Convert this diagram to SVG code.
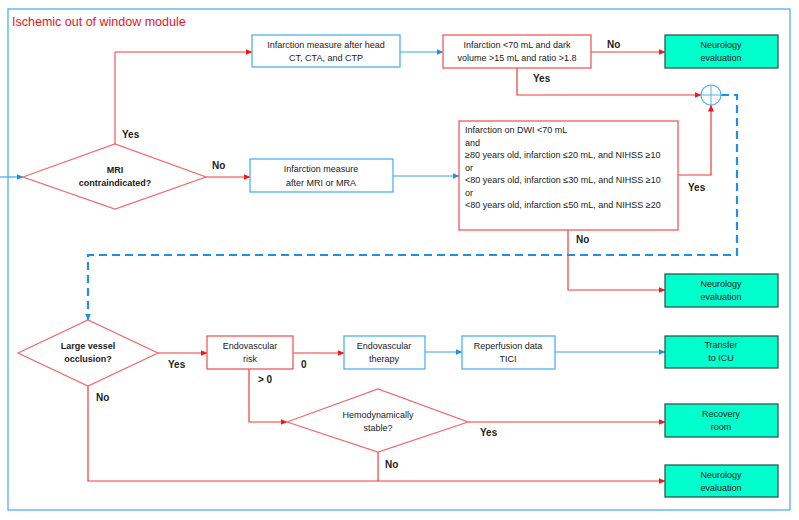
<svg xmlns="http://www.w3.org/2000/svg" width="799" height="520" viewBox="0 0 799 520">
<style>
  text { font-family: "Liberation Sans", Arial, sans-serif; font-size: 9px; fill: #1a1a1a; }
  .c { text-anchor: middle; }
  .lbl { font-size: 10px; font-weight: bold; fill: #222; }
  .title { font-size: 12.5px; fill: #e8141b; }
  .bbox { fill: #ffffff; stroke: #4db3ee; stroke-width: 1.3; }
  .rbox { fill: #ffffff; stroke: #f15b5b; stroke-width: 1.3; }
  .term { fill: #00ffcc; stroke: #2e5a50; stroke-width: 1.3; }
  .dia { fill: #ffffff; stroke: #f26a6a; stroke-width: 1.2; }
  .rl { fill: none; stroke: #f23a3a; stroke-width: 1.2; }
  .pl { fill: none; stroke: #f79a9a; stroke-width: 2; }
  .bl { fill: none; stroke: #3aa6ee; stroke-width: 1.2; }
  .dash { fill: none; stroke: #1e90e8; stroke-width: 2.2; stroke-dasharray: 8 5; }
  .b { font-weight: bold; }
</style>
<defs>
  <marker id="ar" markerWidth="7" markerHeight="6" refX="6.5" refY="3" orient="auto" markerUnits="userSpaceOnUse">
    <path d="M0,0 L7,3 L0,6 Z" fill="#f01818"/>
  </marker>
  <marker id="ab" markerWidth="7" markerHeight="6" refX="6.5" refY="3" orient="auto" markerUnits="userSpaceOnUse">
    <path d="M0,0 L7,3 L0,6 Z" fill="#1e90e8"/>
  </marker>
</defs>
<rect x="0" y="0" width="799" height="520" fill="#ffffff"/>
<rect x="8" y="9" width="782" height="501" fill="none" stroke="#4db3ee" stroke-width="1.3"/>
<text class="title" x="12" y="26">Ischemic out of window module</text>

<g id="connectors">
  <path class="bl" d="M0,177 H23" marker-end="url(#ab)"/>
  <path class="pl" d="M115,144 V52"/>
  <path class="rl" d="M115,52 H252" marker-end="url(#ar)"/>
  <path class="bl" d="M400,52 H443" marker-end="url(#ab)"/>
  <path class="rl" d="M591,52 H665" marker-end="url(#ar)"/>
  <path class="rl" d="M517,68 V95 H701" marker-end="url(#ar)"/>
  <path class="rl" d="M206,177 H250" marker-end="url(#ar)"/>
  <path class="bl" d="M393,176 H459" marker-end="url(#ab)"/>
  <path class="rl" d="M678,175 H711 V105" marker-end="url(#ar)"/>
  <path class="rl" d="M568,230 V290 H665" marker-end="url(#ar)"/>
  <path class="dash" d="M721,95 H737 V255 H88 V320" marker-end="url(#ab)"/>
  <path class="rl" d="M158,353 H207" marker-end="url(#ar)"/>
  <path class="rl" d="M293,353 H344" marker-end="url(#ar)"/>
  <path class="bl" d="M425,352 H462" marker-end="url(#ab)"/>
  <path class="bl" d="M555,352 H665" marker-end="url(#ab)"/>
  <path class="rl" d="M249,369 V422 H287" marker-end="url(#ar)"/>
  <path class="pl" d="M468,422 H665" marker-end="url(#ar)"/>
  <path class="rl" d="M88,386 V481 H665" marker-end="url(#ar)"/>
  <path class="rl" d="M378,452 V481"/>
</g>

<g id="labels">
  <text class="lbl" x="122" y="138">Yes</text>
  <text class="lbl" x="212" y="169">No</text>
  <text class="lbl" x="607" y="48">No</text>
  <text class="lbl" x="533" y="82">Yes</text>
  <text class="lbl" x="688" y="191">Yes</text>
  <text class="lbl" x="576" y="243">No</text>
  <text class="lbl" x="168" y="368">Yes</text>
  <text class="lbl" x="301" y="368">0</text>
  <text class="lbl" x="258" y="383">&gt; 0</text>
  <text class="lbl" x="96" y="401">No</text>
  <text class="lbl" x="385" y="468">No</text>
  <text class="lbl" x="480" y="436">Yes</text>
</g>

<g id="head-ct">
  <rect class="bbox" x="252" y="35" width="148" height="32"/>
  <text class="c" x="326" y="48">Infarction measure after head</text>
  <text class="c" x="326" y="61">CT, CTA, and CTP</text>
</g>
<g id="infarction-70">
  <rect class="rbox" x="443" y="35" width="148" height="33"/>
  <text class="c" x="517" y="48">Infarction &lt;70 mL and dark</text>
  <text class="c" x="517" y="61">volume &gt;15 mL and ratio &gt;1.8</text>
</g>
<g id="neuro-1">
  <rect class="term" x="665" y="35" width="113" height="33"/>
  <text class="c" x="721" y="48">Neurology</text>
  <text class="c" x="721" y="61">evaluation</text>
</g>
<g id="junction">
  <circle cx="711" cy="95" r="10" fill="#ffffff" stroke="#4db3ee" stroke-width="1.2"/>
  <path d="M701,95 H721 M711,85 V105" stroke="#4db3ee" stroke-width="1"/>
</g>
<g id="mri-contra">
  <polygon class="dia" points="23,177 115,144 206,177 115,209"/>
  <text class="c b" x="115" y="173">MRI</text>
  <text class="c b" x="115" y="186">contraindicated?</text>
</g>
<g id="mri-measure">
  <rect class="bbox" x="250" y="159" width="143" height="33"/>
  <text class="c" x="321" y="172">Infarction measure</text>
  <text class="c" x="321" y="186">after MRI or MRA</text>
</g>
<g id="dwi">
  <rect class="rbox" x="459" y="121" width="219" height="109"/>
  <text x="465" y="133">Infarction on DWI &lt;70 mL</text>
  <text x="465" y="146">and</text>
  <text x="465" y="158">≥80 years old, infarction ≤20 mL, and NIHSS ≥10</text>
  <text x="465" y="171">or</text>
  <text x="465" y="183">&lt;80 years old, infarction ≤30 mL, and NIHSS ≥10</text>
  <text x="465" y="196">or</text>
  <text x="465" y="208">&lt;80 years old, infarction ≤50 mL, and NIHSS ≥20</text>
</g>
<g id="neuro-2">
  <rect class="term" x="665" y="274" width="113" height="33"/>
  <text class="c" x="721" y="287">Neurology</text>
  <text class="c" x="721" y="300">evaluation</text>
</g>
<g id="lvo">
  <polygon class="dia" points="18,353 88,320 158,353 88,386"/>
  <text class="c b" x="88" y="349">Large vessel</text>
  <text class="c b" x="88" y="362">occlusion?</text>
</g>
<g id="endo-risk">
  <rect class="rbox" x="207" y="336" width="86" height="33"/>
  <text class="c" x="250" y="349">Endovascular</text>
  <text class="c" x="250" y="362">risk</text>
</g>
<g id="endo-therapy">
  <rect class="bbox" x="344" y="336" width="81" height="33"/>
  <text class="c" x="384" y="349">Endovascular</text>
  <text class="c" x="384" y="362">therapy</text>
</g>
<g id="reperfusion">
  <rect class="bbox" x="462" y="336" width="93" height="33"/>
  <text class="c" x="508" y="349">Reperfusion data</text>
  <text class="c" x="508" y="362">TICI</text>
</g>
<g id="icu">
  <rect class="term" x="665" y="336" width="113" height="32"/>
  <text class="c" x="721" y="348">Transfer</text>
  <text class="c" x="721" y="361">to ICU</text>
</g>
<g id="hemo">
  <polygon class="dia" points="287,422 378,389 468,422 378,452"/>
  <text class="c" x="378" y="418">Hemodynamically</text>
  <text class="c" x="378" y="431">stable?</text>
</g>
<g id="recovery">
  <rect class="term" x="665" y="404" width="113" height="33"/>
  <text class="c" x="721" y="417">Recovery</text>
  <text class="c" x="721" y="430">room</text>
</g>
<g id="neuro-3">
  <rect class="term" x="665" y="465" width="113" height="32"/>
  <text class="c" x="721" y="478">Neurology</text>
  <text class="c" x="721" y="491">evaluation</text>
</g>
</svg>
